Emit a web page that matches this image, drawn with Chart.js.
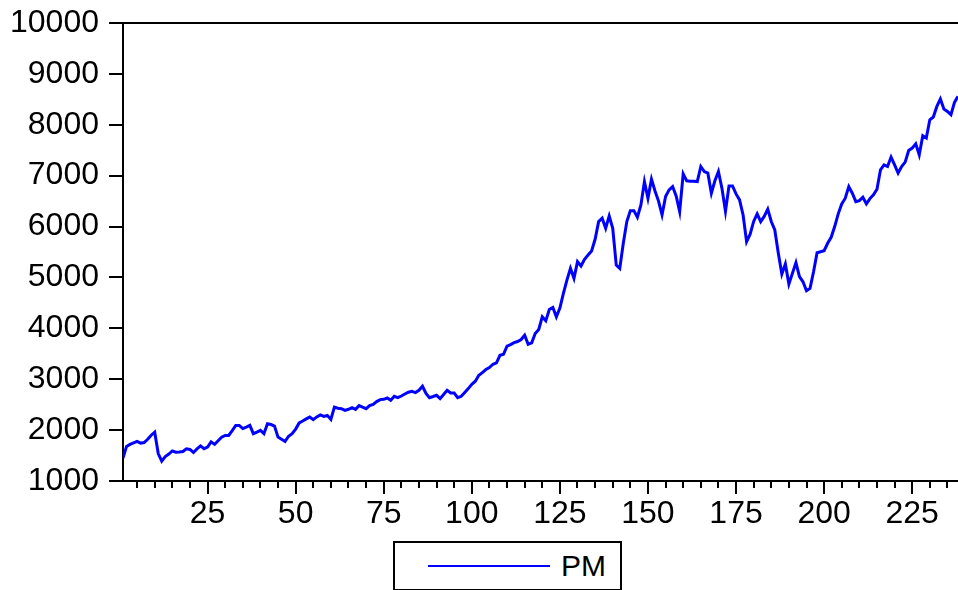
<!DOCTYPE html>
<html>
<head>
<meta charset="utf-8">
<title>PM</title>
<script src="https://cdn.jsdelivr.net/npm/chart.js@4.4.1/dist/chart.umd.min.js"></script>
<style>
  html, body { margin: 0; padding: 0; background: #fff; }
  .wrap { position: relative; width: 958px; height: 590px; overflow: hidden; }
  #chart { position: absolute; left: 0; top: 0; }
  /* legend box, bottom centre */
  .legend {
    position: absolute; left: 393px; top: 541px;
    width: 225px; height: 46px;
    border: 2px solid #000; background: #fff;
    font-family: "Liberation Sans", Arial, sans-serif;
  }
  .legend .swatch {
    position: absolute; left: 33px; top: 22px;
    width: 122px; height: 2px; background: #0000ff;
  }
  .legend .txt {
    position: absolute; left: 166px; top: 6px;
    font-size: 30px; line-height: 34px; color: #000;
  }
</style>
</head>
<body>
<div class="wrap">
  <canvas id="chart" width="958" height="590"></canvas>
  <div class="legend"><div class="swatch"></div><div class="txt">PM</div></div>
</div>
<script>
// data, one value per period 1..238
const periods = [];
for (let i = 1; i <= 238; i++) periods.push(i);

const pm = [
  1450, 1680, 1720, 1750, 1780, 1745, 1755, 1820, 1900, 1960,
  1540, 1390, 1480, 1530, 1590, 1567, 1570, 1580, 1634, 1620,
  1561, 1630, 1690, 1634, 1666, 1770, 1720, 1790, 1860, 1896,
  1896, 1990, 2093, 2093, 2030, 2060, 2093, 1930, 1960, 1994,
  1930, 2126, 2110, 2080, 1862, 1820, 1778, 1880, 1929, 2020,
  2140, 2178, 2220, 2256, 2205, 2260, 2300, 2270, 2290, 2211,
  2453, 2430, 2421, 2388, 2410, 2441, 2408, 2481, 2450, 2421,
  2480, 2506, 2560, 2599, 2605, 2631, 2585, 2664, 2638, 2670,
  2710, 2745, 2762, 2737, 2782, 2861, 2720, 2638, 2660, 2684,
  2619, 2700, 2782, 2729, 2729, 2638, 2664, 2740, 2816, 2900,
  2960, 3078, 3130, 3190, 3229, 3294, 3320, 3471, 3491, 3649,
  3680, 3720, 3740, 3781, 3865, 3688, 3714, 3899, 3978, 4226,
  4147, 4371, 4411, 4226, 4400, 4687, 4949, 5179, 4982, 5309,
  5224, 5356, 5441, 5520, 5750, 6097, 6163, 5966, 6209, 5966,
  5244, 5179, 5671, 6097, 6313, 6313, 6183, 6425, 6884, 6557,
  6931, 6700, 6500, 6228, 6589, 6721, 6786, 6600, 6293, 7036,
  6898, 6890, 6890, 6884, 7180, 7081, 7050, 6656, 6900, 7081,
  6750, 6300, 6799, 6799, 6642, 6524, 6228, 5703, 5850, 6100,
  6248, 6097, 6200, 6341, 6100, 5933, 5474, 5067, 5264, 4870,
  5080, 5289, 5014, 4915, 4738, 4785, 5112, 5486, 5506, 5525,
  5671, 5789, 6000, 6250, 6445, 6557, 6786, 6656, 6490, 6510,
  6577, 6445, 6550, 6622, 6734, 7115, 7213, 7180, 7365, 7213,
  7050, 7180, 7266, 7495, 7542, 7627, 7410, 7784, 7739, 8099,
  8153, 8361, 8507, 8310, 8263, 8198, 8440, 8558
];

const xMin = 1, xMax = 238;
const xLabels = [25, 50, 75, 100, 125, 150, 175, 200, 225];
const xMinorStep = 5;
const yMin = 1000, yMax = 10000, yStep = 1000;

const FONT = "'Liberation Sans', Arial, sans-serif";

// minor / major tick marks under the x axis, plus the top frame line
const frame = {
  id: "frame",
  afterDraw(chart){
    const ctx = chart.ctx, xs = chart.scales.x, a = chart.chartArea;
    ctx.save();
    ctx.strokeStyle = "#000";
    ctx.lineWidth = 2;
    ctx.beginPath();
    for (let v = xMinorStep; v <= xMax; v += xMinorStep) {
      const px = Math.round(xs.getPixelForValue(v));
      const len = xLabels.includes(v) ? 13 : 7;
      ctx.moveTo(px, a.bottom);
      ctx.lineTo(px, a.bottom + len);
    }
    ctx.moveTo(a.left - 1, a.top);
    ctx.lineTo(a.right + 2, a.top);
    ctx.stroke();
    ctx.restore();
  }
};

new Chart(document.getElementById("chart"), {
  type: "line",
  data: {
    datasets: [{
      label: "PM",
      data: periods.map((p, i) => ({x: p, y: pm[i]})),
      borderColor: "#0000ff",
      borderWidth: 3,
      pointRadius: 0,
      tension: 0,
      fill: false
    }]
  },
  options: {
    responsive: false,
    animation: false,
    devicePixelRatio: 1,
    layout: {padding: {top: 23, right: 0, left: 0, bottom: 0}},
    plugins: {legend: {display: false}, tooltip: {enabled: false}},
    scales: {
      x: {
        type: "linear",
        min: xMin, max: xMax,
        grid: {display: false},
        border: {display: true, color: "#000", width: 2},
        afterBuildTicks: s => { s.ticks = xLabels.map(v => ({value: v})); },
        ticks: {
          autoSkip: false,
          maxRotation: 0,
          padding: 6,
          color: "#000",
          font: {family: FONT, size: 32},
          callback: v => String(v)
        },
        afterFit: s => { s.height = 109; s.paddingLeft = 0; s.paddingRight = 0; }
      },
      y: {
        min: yMin, max: yMax,
        grid: {display: true, drawOnChartArea: false, drawTicks: true, tickLength: 14, color: "#000", lineWidth: 2},
        border: {display: true, color: "#000", width: 2},
        ticks: {
          stepSize: yStep,
          padding: 10,
          color: "#000",
          font: {family: FONT, size: 32},
          callback: v => String(v)
        },
        afterFit: s => { s.width = 123; s.paddingTop = 0; s.paddingBottom = 0; }
      }
    }
  },
  plugins: [frame]
});
</script>
</body>
</html>
